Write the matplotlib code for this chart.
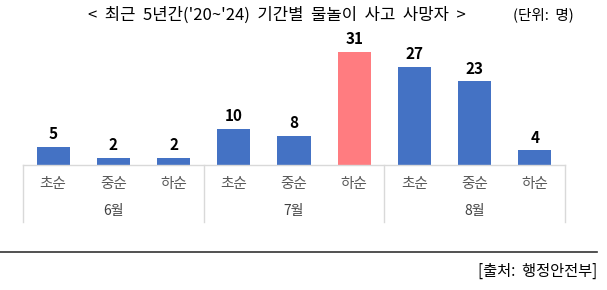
import matplotlib.pyplot as plt
from matplotlib.lines import Line2D

plt.rcParams['font.family'] = ['Noto Sans CJK KR', 'DejaVu Sans']

periods = ['초순', '중순', '하순'] * 3
months = ['6월', '7월', '8월']
deaths = [5, 2, 2, 10, 8, 31, 27, 23, 4]
highlight = 5  # 7월 하순

W, H = 607, 290
fig = plt.figure(figsize=(W / 100, H / 100), dpi=100)

# axes: baseline at y=165px, x from 23px to 565px
ax_left, ax_right, base_y = 23, 565, 165
ymax = 35
px_per_unit = 3.64
ax_h = ymax * px_per_unit
ax = fig.add_axes([ax_left / W, 1 - base_y / H, (ax_right - ax_left) / W, ax_h / H])

colors = ['#4472C4'] * len(deaths)
colors[highlight] = '#FF7C80'
x = list(range(len(deaths)))
bars = ax.bar(x, deaths, width=0.55, color=colors)
for rect, v in zip(bars, deaths):
    ax.text(rect.get_x() + rect.get_width() / 2, v + 1.3, str(v),
            ha='center', va='bottom', fontsize=11, fontweight='bold', color='#000000')

ax.set_xlim(-0.5, len(deaths) - 0.5)
ax.set_ylim(0, ymax)
ax.axis('off')

grid = '#D9D9D9'
# baseline
fig.add_artist(Line2D([ax_left / W, ax_right / W], [1 - base_y / H] * 2, color=grid, lw=1))

# group separators and labels
step = (ax_right - ax_left) / len(deaths)
for k in range(4):
    xp = (ax_left + k * step * 3) / W
    fig.add_artist(Line2D([xp, xp], [1 - base_y / H, 1 - 222 / H], color=grid, lw=1))
for i, p in enumerate(periods):
    xp = (ax_left + (i + 0.5) * step) / W
    fig.text(xp, 1 - 184 / H, p, ha='center', va='center', fontsize=10.5, color='#595959')
for j, m in enumerate(months):
    xp = (ax_left + (j * 3 + 1.5) * step) / W
    fig.text(xp, 1 - 211 / H, m, ha='center', va='center', fontsize=10, color='#404040')

# title
fig.text(277 / W, 1 - 15 / H, "<  최근  5년간('20~'24)  기간별  물놀이  사고  사망자  >",
         ha='center', va='center', fontsize=12, color='#000000')
fig.text(543 / W, 1 - 15 / H, '(단위:  명)', ha='center', va='center', fontsize=10.5, color='#000000')

# bottom rule and source
fig.add_artist(Line2D([0, 597 / W], [1 - 251.5 / H] * 2, color='#333333', lw=1.2))
fig.text(597 / W, 1 - 271 / H, '[출처:  행정안전부]', ha='right', va='center',
         fontsize=11, color='#000000')

fig.savefig('out.png', dpi=100)
